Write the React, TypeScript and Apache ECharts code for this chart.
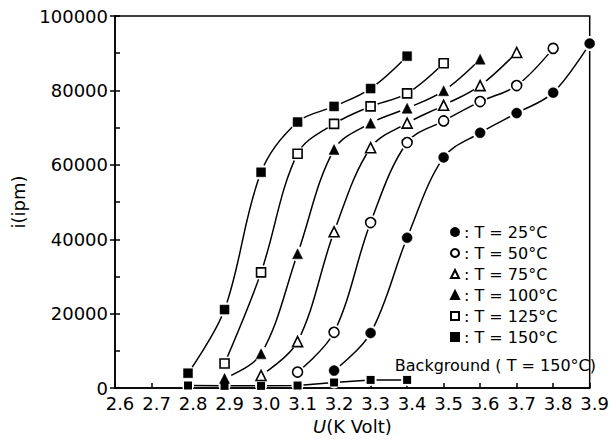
import React, { useEffect, useRef } from "react";
import * as echarts from "echarts";

const u25 = [3.2, 3.3, 3.4, 3.5, 3.6, 3.7, 3.8, 3.9];
const i25 = [4700, 14800, 40400, 62000, 68600, 73900, 79400, 92600];
const u50 = [3.1, 3.2, 3.3, 3.4, 3.5, 3.6, 3.7, 3.8];
const i50 = [4300, 15000, 44500, 66000, 71800, 77000, 81300, 91300];
const u75 = [3.0, 3.1, 3.2, 3.3, 3.4, 3.5, 3.6, 3.7];
const i75 = [3400, 12500, 42000, 64600, 71200, 76000, 81300, 90200];
const u100 = [2.9, 3.0, 3.1, 3.2, 3.3, 3.4, 3.5, 3.6];
const i100 = [2600, 9200, 36100, 64100, 71200, 75200, 79900, 88400];
const u125 = [2.9, 3.0, 3.1, 3.2, 3.3, 3.4, 3.5];
const i125 = [6600, 31100, 63000, 71000, 75700, 79200, 87300];
const u150 = [2.8, 2.9, 3.0, 3.1, 3.2, 3.3, 3.4];
const i150 = [4000, 21100, 58000, 71500, 75700, 80500, 89200];
const uBg = [2.8, 2.9, 3.0, 3.1, 3.2, 3.3, 3.4];
const iBg = [700, 600, 600, 700, 1500, 2200, 2200];

const xTicks = { min: 2.6, max: 3.9, step: 0.1 };
const yTicks = { min: 0, max: 100000, step: 20000, minorStep: 10000 };

const legendNames = ["T = 25°C", "T = 50°C", "T = 75°C", "T = 100°C", "T = 125°C", "T = 150°C"];
const bgLabel = "Background ( T = 150°C)";

const FONT = "DejaVu Sans";

function pairs(u: number[], v: number[]) {
  return u.map((x, k) => [x, v[k]]);
}

export default function App() {
  const ref = useRef<HTMLDivElement>(null);
  useEffect(() => {
    if (!ref.current) return;
    const chart = echarts.init(ref.current, undefined, { renderer: "svg" });
    const defs = [
      { name: legendNames[0], u: u25, v: i25, symbol: "circle", size: 10, filled: true },
      { name: legendNames[1], u: u50, v: i50, symbol: "circle", size: 10, filled: false },
      { name: legendNames[2], u: u75, v: i75, symbol: "triangle", size: 10, filled: false },
      { name: legendNames[3], u: u100, v: i100, symbol: "triangle", size: 10, filled: true },
      { name: legendNames[4], u: u125, v: i125, symbol: "rect", size: 9, filled: false },
      { name: legendNames[5], u: u150, v: i150, symbol: "rect", size: 9, filled: true },
    ];
    const series: any[] = [];
    defs.forEach((d, k) => {
      series.push({
        name: "curve" + k,
        type: "line",
        data: pairs(d.u, d.v),
        smooth: 0.35,
        symbol: "circle",
        symbolSize: 15,
        showSymbol: true,
        itemStyle: { color: "#fff", borderWidth: 0 },
        lineStyle: { color: "#000", width: 1.5 },
        z: 2,
        silent: true,
      });
    });
    series.push({
      name: "bgcurve",
      type: "line",
      data: pairs(uBg, iBg),
      symbol: "circle",
      symbolSize: 12,
      itemStyle: { color: "#fff", borderWidth: 0 },
      lineStyle: { color: "#000", width: 1.5 },
      z: 2,
      silent: true,
    });
    defs.forEach((d) => {
      series.push({
        name: d.name,
        type: "scatter",
        data: pairs(d.u, d.v),
        symbol: d.symbol,
        symbolSize: d.size,
        itemStyle: d.filled
          ? { color: "#000", borderColor: "#000", borderWidth: 0.5, opacity: 1 }
          : { color: "#fff", borderColor: "#000", borderWidth: 1.6, opacity: 1 },
        z: 5,
      });
    });
    series.push({
      name: "bg",
      type: "scatter",
      data: pairs(uBg, iBg),
      symbol: "rect",
      symbolSize: 8,
      itemStyle: { color: "#000", opacity: 1 },
      z: 5,
    });

    chart.setOption({
      animation: false,
      backgroundColor: "#fff",
      textStyle: { fontFamily: FONT },
      grid: {
        left: 115,
        right: 13,
        top: 16,
        bottom: 45,
        show: true,
        borderColor: "#000",
        borderWidth: 1.5,
      },
      legend: {
        data: legendNames,
        orient: "vertical",
        left: 445,
        top: 217,
        itemWidth: 8,
        itemHeight: 8,
        itemGap: 1,
        formatter: (n: string) => ": " + n,
        textStyle: { fontFamily: FONT, fontSize: 16, color: "#000", lineHeight: 20 },
        selectedMode: false,
      },
      xAxis: {
        type: "value",
        min: xTicks.min,
        max: xTicks.max,
        interval: xTicks.step,
        name: "{i|U}(K Volt)",
        nameLocation: "middle",
        nameGap: 19,
        nameTextStyle: {
          fontFamily: FONT,
          fontSize: 18,
          color: "#000",
          verticalAlign: "top",
          rich: { i: { fontStyle: "italic", fontFamily: FONT, fontSize: 18, color: "#000" } },
        },
        axisLine: { lineStyle: { color: "#000", width: 1.5 } },
        axisTick: { inside: true, length: 5, lineStyle: { color: "#000", width: 1.5 } },
        axisLabel: {
          color: "#000",
          fontSize: 18,
          fontFamily: FONT,
          margin: 6,
          padding: [0, 0, 0, 10],
          formatter: (v: number) => v.toFixed(1),
        },
        splitLine: { show: false },
      },
      yAxis: [
        {
          type: "value",
          min: yTicks.min,
          max: yTicks.max,
          interval: yTicks.step,
          name: "i(ipm)",
          nameLocation: "middle",
          nameRotate: 90,
          nameGap: 88,
          nameTextStyle: { fontFamily: FONT, fontSize: 18, color: "#000" },
          axisLine: { lineStyle: { color: "#000", width: 1.5 } },
          axisTick: { inside: false, length: 5, lineStyle: { color: "#000", width: 1.5 } },
          axisLabel: {
            color: "#000",
            fontSize: 18,
            fontFamily: FONT,
            margin: 7,
            formatter: (v: number) => String(v),
          },
          splitLine: { show: false },
        },
        {
          type: "value",
          min: yTicks.min,
          max: yTicks.max,
          interval: yTicks.minorStep,
          position: "left",
          axisLine: { show: false },
          axisTick: { inside: true, length: 5, lineStyle: { color: "#000", width: 1.5 } },
          axisLabel: { show: false },
          splitLine: { show: false },
        },
      ],
      graphic: [
        {
          type: "text",
          right: 16,
          top: 357,
          style: { text: bgLabel, font: `16px "${FONT}"`, fill: "#000" },
        },
      ],
      series,
    });
    return () => chart.dispose();
  }, []);
  return (
    <div
      ref={ref}
      style={{ position: "fixed", left: 0, top: 0, width: 612, height: 440, background: "#fff" }}
    />
  );
}
